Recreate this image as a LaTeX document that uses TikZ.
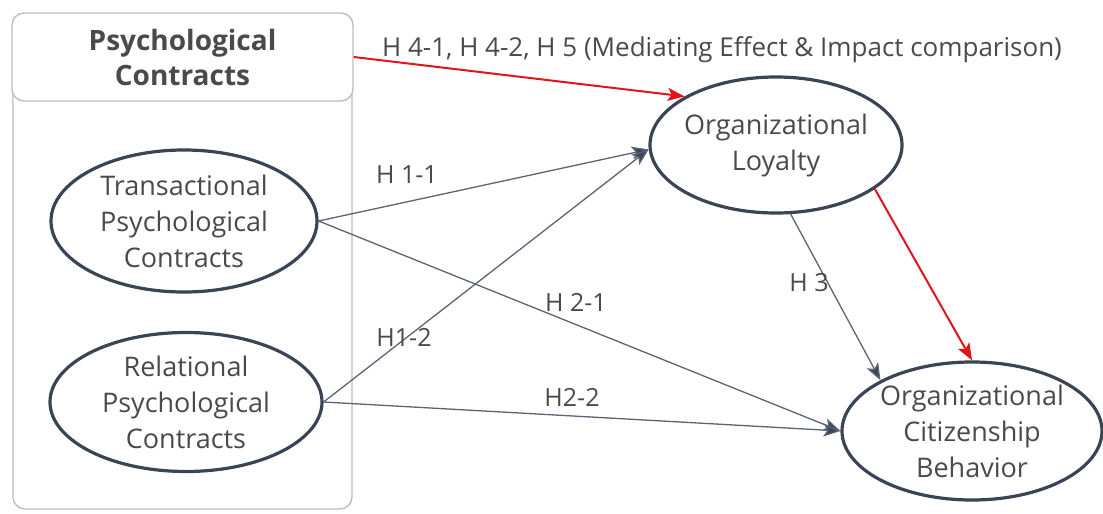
\documentclass[tikz,border=0pt]{standalone}
\usepackage{fontspec}
\setmainfont{Open Sans}
\usetikzlibrary{shapes.geometric,arrows.meta}
\definecolor{ellcol}{HTML}{3A4455}
\definecolor{linecol}{HTML}{5A6474}
\definecolor{txtcol}{HTML}{4A4A4A}
\definecolor{redcol}{HTML}{E0141B}
\definecolor{boxcol}{HTML}{BDBDBD}
\tikzset{
  construct/.style={ellipse, draw=ellcol, line width=3.2pt, fill=white,
    inner xsep=-25pt, inner ysep=-20pt,
    align=center, text=txtcol, font=\fontsize{27}{36}\selectfont},
  conn/.style={draw=linecol, line width=1.3pt, -{Stealth[length=17pt,width=13pt,inset=4pt,fill=ellcol]}},
  redconn/.style={draw=redcol, line width=2pt, -{Stealth[length=17pt,width=13pt,inset=4pt,fill=redcol]}},
  hyp/.style={text=txtcol, font=\fontsize{25}{30}\selectfont, inner sep=0pt}
}
\begin{document}
\begin{tikzpicture}[x=1pt,y=-1pt]
\useasboundingbox (0,0) rectangle (1103,514);
% container
\draw[boxcol, line width=1.4pt, rounded corners=12pt] (13,14) rectangle (352,509);
\node[draw=boxcol, line width=1.4pt, rounded corners=12pt, fill=white,
  minimum width=341pt, minimum height=88pt, inner sep=0pt, align=center,
  text=txtcol, font=\fontsize{28}{35}\selectfont\bfseries] (hdr) at (182.5,57) {Psychological\\Contracts};
% constructs
\node[construct, minimum width=266pt, minimum height=142pt] (tr) at (184,221) {Transactional\\Psychological\\Contracts};
\node[construct, minimum width=272pt, minimum height=139pt] (rel) at (186,402) {Relational\\Psychological\\Contracts};
\node[construct, minimum width=252pt, minimum height=136pt] (ol) at (776,145) {Organizational\\Loyalty};
\node[construct, minimum width=260pt, minimum height=138pt] (ocb) at (972,431) {Organizational\\Citizenship\\Behavior};
% connectors
\draw[conn] (tr.east) -- (ol.182);
\draw[conn] (rel.east) -- (ol.182);
\draw[conn] (tr.east) -- (ocb.west);
\draw[conn] (rel.east) -- (ocb.west);
\draw[conn] (ol.-78) -- (ocb.151);
\draw[redconn] (hdr.east) -- (ol.152);
\draw[redconn] (ol.-24) -- (ocb.north);
% labels
\node[hyp, font=\fontsize{26}{30}\selectfont] (l0) at (722,50) {H 4-1, H 4-2, H 5 (Mediating Effect \& Impact comparison)};
\node[hyp] (l11) at (407,175) {H 1-1};
\node[hyp] (l21) at (576,302) {H 2-1};
\node[hyp] (l12) at (404,337) {H1-2};
\node[hyp] (l22) at (572,397) {H2-2};
\node[hyp] (l3) at (809,283) {H 3};
\end{tikzpicture}
\end{document}
